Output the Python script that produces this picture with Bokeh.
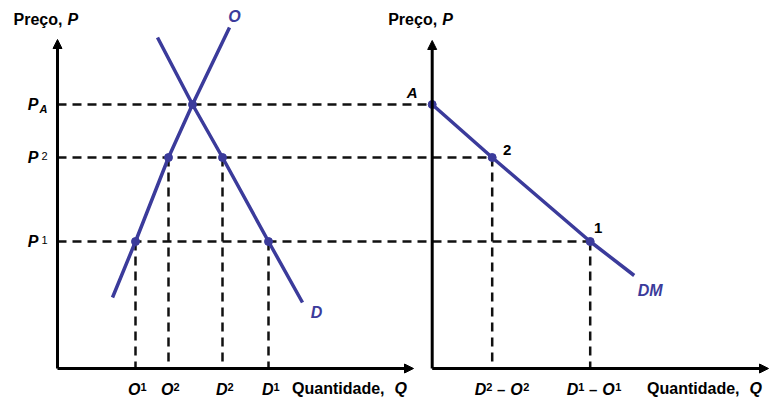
from bokeh.plotting import figure
from bokeh.models import Range1d, Arrow, NormalHead
from bokeh.core.properties import value
from bokeh.embed import file_html
from bokeh.resources import INLINE

# ---- data (price / quantity units) ----
price_names = ["A", "2", "1"]
prices = [26.4, 21.1, 12.7]              # P_A, P2, P1
supply_q = [5.5, 7.8, 11.1, 13.5, 17.2]   # O curve
supply_p = [7.1, 12.7, 21.1, 26.4, 34.1]
demand_q = [10.0, 13.5, 16.5, 21.1, 24.5] # D curve
demand_p = [33.1, 26.4, 21.1, 12.7, 6.6]
q_left_letters = ["O", "O", "D", "D"]
q_left_index = ["1", "2", "2", "1"]
q_left = [7.8, 11.1, 16.5, 21.1]
q_left_p = [12.7, 21.1, 21.1, 12.7]
q_eq = 13.5
excess_q = [0.0, 6.0, 15.8, 20.2]        # DM curve (Q = D - O)
excess_p = [26.4, 21.1, 12.7, 9.3]
q_right_index = ["2", "1"]
point_labels = ["A", "2", "1"]

RIGHT = 37.47   # origin of the right panel
BLUE = "#3b3b9b"
FONT = "Liberation Sans"

p = figure(width=773, height=402, output_backend="svg", toolbar_location=None,
           x_range=Range1d(-5.7, 71.6), y_range=Range1d(-3.4, 36.8),
           min_border=0, outline_line_color=None)
p.axis.visible = False
p.grid.visible = False
p.background_fill_color = "white"

def txt(x, y, t, size, style="bold", color="black", align="center", **kw):
    p.text(x=x, y=y, text=t, text_align=align, text_baseline="middle",
           text_font=value(FONT), text_font_style=style, text_font_size=size,
           text_color=color, **kw)

# dashed guides
hx1 = [RIGHT + q for q in excess_q[:3]]
p.segment(x0=[0, 0, 0], y0=prices, x1=hx1, y1=prices,
          line_color="#111111", line_width=2.5, line_dash="9 6")
vx = q_left + [RIGHT + excess_q[1], RIGHT + excess_q[2]]
vy = q_left_p + [excess_p[1], excess_p[2]]
p.segment(x0=vx, y0=vy, x1=vx, y1=[0] * len(vx),
          line_color="#111111", line_width=2.5, line_dash="9 6")

# axes with arrows
def head():
    return NormalHead(size=9, fill_color="black", line_color="black", line_width=1)
for (x0, y0, x1, y1) in [(0, 0, 0, 32.9), (0, 0, 35.6, 0),
                         (RIGHT, 0, RIGHT, 32.8), (RIGHT, 0, 71.1, 0)]:
    p.add_layout(Arrow(end=head(), x_start=x0, y_start=y0, x_end=x1, y_end=y1,
                       line_color="black", line_width=3))

# curves
p.line(supply_q, supply_p, line_color=BLUE, line_width=3.5)
p.line(demand_q, demand_p, line_color=BLUE, line_width=3.5)
p.line([RIGHT + q for q in excess_q], excess_p, line_color=BLUE, line_width=3.5)

# points
px = q_left + [q_eq] + [RIGHT + q for q in excess_q[:3]]
py = q_left_p + [prices[0]] + excess_p[:3]
p.scatter(px, py, size=8, fill_color=BLUE, line_color=BLUE)

# axis titles
for x0 in [0, RIGHT]:
    txt([x0], [34.9], ["Preço,"], "16px", align="left", x_offset=-44)
    txt([x0], [34.9], ["P"], "16px", style="bold italic", align="left", x_offset=10)
for xq in [35.6, 71.1]:
    txt([xq], [-2.0], ["Quantidade,"], "16px", align="right", x_offset=-29)
    txt([xq], [-2.0], ["Q"], "16px", style="bold italic", align="left", x_offset=-19)

# price labels on the left axis
txt([0] * 3, prices, ["P"] * 3, "16px", style="bold italic", align="right", x_offset=-19)
txt([0], [prices[0]], [price_names[0]], "11px", style="bold italic", align="left",
    x_offset=-18, y_offset=4)
txt([0, 0], prices[1:], price_names[1:], "11px", style="normal", align="left",
    x_offset=-16, y_offset=-2)

# quantity tick labels, left panel
txt(q_left, [-2.1] * 4, q_left_letters, "16px", style="bold italic", align="right",
    x_offset=5)
txt(q_left, [-2.1] * 4, q_left_index, "11px", style="bold", align="left",
    x_offset=5, y_offset=-3)

# quantity tick labels, right panel  (D^i – O^i)
rq = [RIGHT + excess_q[1], RIGHT + excess_q[2]]
shift = [9, 3]
txt(rq, [-2.1] * 2, ["–"] * 2, "15px", style="bold", x_offset=shift)
txt(rq, [-2.1] * 2, ["D"] * 2, "16px", style="bold italic", align="right",
    x_offset=[s - 15 for s in shift])
txt(rq, [-2.1] * 2, q_right_index, "11px", style="bold", align="left",
    x_offset=[s - 15 for s in shift], y_offset=-3)
txt(rq, [-2.1] * 2, ["O"] * 2, "16px", style="bold italic", align="left",
    x_offset=[s + 9 for s in shift])
txt(rq, [-2.1] * 2, q_right_index, "11px", style="bold", align="left",
    x_offset=[s + 22 for s in shift], y_offset=-3)

# curve labels
txt([supply_q[-1]], [supply_p[-1]], ["O"], "16px", style="bold italic", color=BLUE,
    x_offset=5, y_offset=-11)
txt([demand_q[-1]], [demand_p[-1]], ["D"], "16px", style="bold italic", color=BLUE,
    x_offset=14, y_offset=10)
txt([RIGHT + excess_q[-1]], [excess_p[-1]], ["DM"], "16px", style="bold italic",
    color=BLUE, x_offset=16, y_offset=15)

# point labels on the right panel
txt([RIGHT + q for q in excess_q[:3]], excess_p[:3], point_labels, "15px",
    style=["bold italic", "bold", "bold"], x_offset=[-20, 15, 8], y_offset=[-12, -8, -14])

open("out.html", "w").write(file_html(p, INLINE))
